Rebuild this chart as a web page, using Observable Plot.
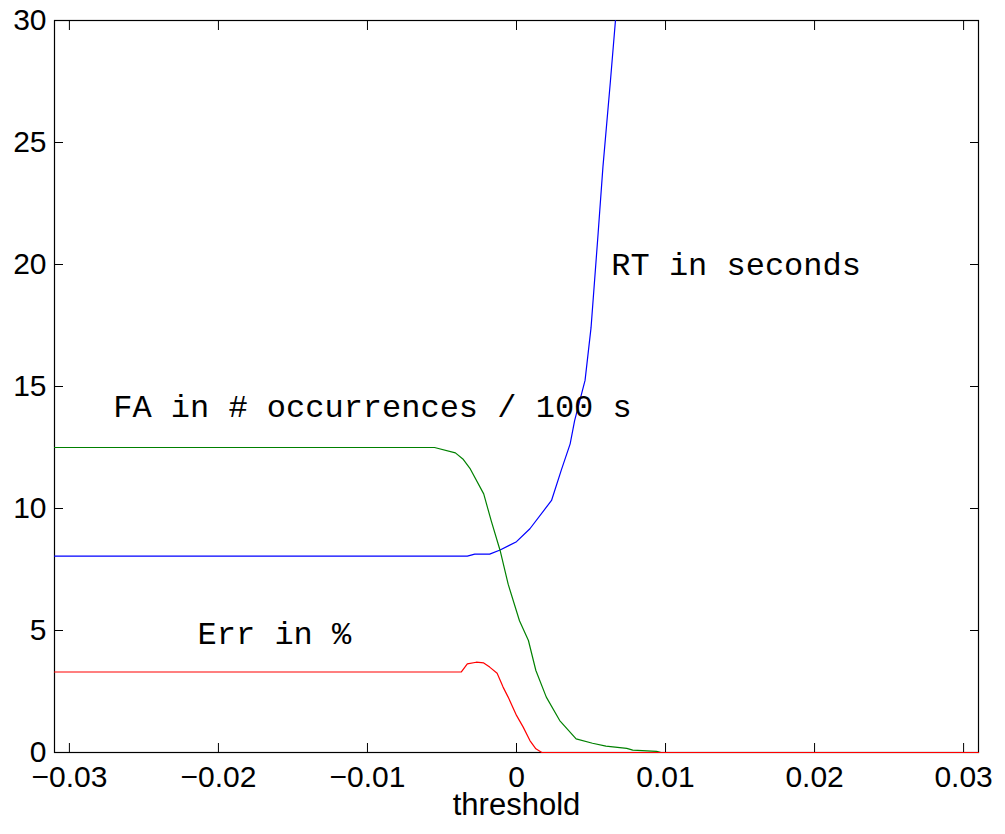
<!DOCTYPE html>
<html>
<head>
<meta charset="utf-8">
<script src="https://cdn.jsdelivr.net/npm/d3@7"></script>
<script src="https://cdn.jsdelivr.net/npm/@observablehq/plot@0.6"></script>
<style>
  html, body { margin: 0; padding: 0; background: #fff; }
</style>
</head>
<body>
<div id="chart"></div>
<script>
// Data
const rtX = [-0.031, -0.0033, -0.0028, -0.0018, -0.0011, 0, 0.0009, 0.00235, 0.0030, 0.0036, 0.0039, 0.0046, 0.0050, 0.00548, 0.0058, 0.0063, 0.00664];
const rtY = [8.05, 8.05, 8.13, 8.13, 8.3, 8.64, 9.17, 10.33, 11.56, 12.65, 13.6, 15.25, 17.4, 21.3, 24.0, 27.5, 30];

const faX = [-0.031, -0.0055, -0.0041, -0.0036, -0.0031, -0.0022, -0.0017, -0.0011, -0.00056, 0.0002, 0.0008, 0.0013, 0.0020, 0.0029, 0.0040, 0.0051, 0.0060, 0.0074, 0.0078, 0.0094, 0.0097, 0.031];
const faY = [12.5, 12.5, 12.28, 12.03, 11.62, 10.6, 9.5, 8.28, 6.9, 5.4, 4.59, 3.36, 2.27, 1.31, 0.56, 0.38, 0.26, 0.17, 0.1, 0.05, 0, 0];

const errX = [-0.031, -0.0037, -0.0033, -0.0027, -0.0022, -0.0018, -0.0013, -0.0009, -0.00056, 0, 0.00045, 0.0009, 0.0013, 0.0017, 0.031];
const errY = [3.3, 3.3, 3.63, 3.70, 3.67, 3.5, 3.25, 2.68, 2.27, 1.52, 1.04, 0.49, 0.15, 0, 0];

const xTicks = [-0.03, -0.02, -0.01, 0, 0.01, 0.02, 0.03];
const yTicks = [0, 5, 10, 15, 20, 25, 30];

const noteText = ["RT in seconds", "FA in # occurrences / 100 s", "Err in %"];
const noteX = [0.00636, -0.02706, -0.0214];
const noteY = [20.0, 14.15, 4.86];

const xLabel = "threshold";

// Build tables
const toRows = (xs, ys) => xs.map((x, i) => ({x, y: ys[i]}));
const rt = toRows(rtX, rtY);
const fa = toRows(faX, faY);
const err = toRows(errX, errY);
const notes = noteText.map((t, i) => ({text: t, x: noteX[i], y: noteY[i]}));

const fmt = d3.format("~g");

const chart = Plot.plot({
  width: 1005,
  height: 834,
  marginLeft: 54,
  marginRight: 27,
  marginTop: 20,
  marginBottom: 82,
  style: {fontFamily: "Liberation Sans, Arial, sans-serif", fontSize: "30px", background: "#fff", color: "#000"},
  x: {domain: [-0.031, 0.031], label: null},
  y: {domain: [0, 30], label: null},
  marks: [
    Plot.frame({stroke: "#000", strokeWidth: 1.2}),
    // labels
    Plot.axisX({anchor: "bottom", ticks: xTicks, tickSize: 0, tickPadding: 13, tickFormat: fmt, label: null, fontSize: 30}),
    Plot.axisY({anchor: "left", ticks: yTicks, tickSize: 0, tickPadding: 8, tickFormat: fmt, label: null, fontSize: 30}),
    // inward ticks on all four sides
    Plot.axisX({anchor: "bottom", ticks: xTicks, tickSize: -9, tickFormat: () => "", label: null}),
    Plot.axisX({anchor: "top", ticks: xTicks, tickSize: -9, tickFormat: () => "", label: null}),
    Plot.axisY({anchor: "left", ticks: yTicks, tickSize: -9, tickFormat: () => "", label: null}),
    Plot.axisY({anchor: "right", ticks: yTicks, tickSize: -9, tickFormat: () => "", label: null}),
    // series
    Plot.line(rt, {x: "x", y: "y", stroke: "#0000ff", strokeWidth: 1.2}),
    Plot.line(fa, {x: "x", y: "y", stroke: "#008000", strokeWidth: 1.2}),
    Plot.line(err, {x: "x", y: "y", stroke: "#ff0000", strokeWidth: 1.2}),
    // annotations
    Plot.text(notes, {x: "x", y: "y", text: "text", textAnchor: "start", fontFamily: "Liberation Mono, Courier New, monospace", fontSize: 32, fill: "#000"}),
    // axis title
    Plot.text([xLabel], {text: d => d, frameAnchor: "bottom", dy: 62, fontSize: 31})
  ]
});
document.getElementById("chart").appendChild(chart);
</script>
</body>
</html>
